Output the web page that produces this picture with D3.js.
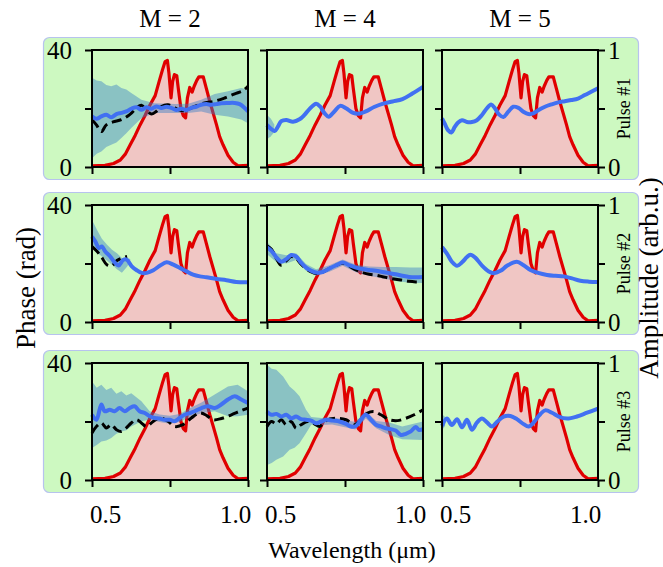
<!DOCTYPE html>
<html>
<head>
<meta charset="utf-8">
<script src="https://cdn.jsdelivr.net/npm/d3@7"></script>
<style>
  html, body { margin: 0; padding: 0; background: #fff; }
  svg { display: block; }
  svg text { font-family: "Liberation Serif", "DejaVu Serif", serif; }
</style>
</head>
<body>
<svg id="chart" width="663" height="567"></svg>
<script>
// column / row labels
const columns = ["M = 2", "M = 4", "M = 5"];
const pulses = ["Pulse #1", "Pulse #2", "Pulse #3"];
const xTicks = [0.45, 0.75, 1.05];
const xLabels = [0.5, 1.0];
const phaseTicks = [0, 20, 40];
const ampTicks = [0, 0.5, 1];

// measured spectrum (same in every panel) [wavelength um, amplitude]
const spectrum = [[0.45,0.01],[0.50,0.014],[0.533,0.03],[0.559,0.06],[0.578,0.11],[0.597,0.19],[0.616,0.27],
  [0.635,0.36],[0.654,0.44],[0.673,0.53],[0.693,0.61],[0.708,0.73],[0.721,0.83],[0.731,0.90],[0.740,0.91],
  [0.746,0.80],[0.754,0.59],[0.760,0.73],[0.767,0.79],[0.776,0.78],[0.782,0.67],[0.792,0.50],[0.801,0.44],
  [0.810,0.42],[0.817,0.59],[0.826,0.68],[0.835,0.64],[0.843,0.69],[0.853,0.74],[0.861,0.77],[0.878,0.77],
  [0.890,0.67],[0.903,0.56],[0.916,0.46],[0.929,0.36],[0.941,0.26],[0.954,0.19],[0.973,0.10],[0.993,0.04],
  [1.012,0.01],[1.05,0.014]];

// retrieved phase (blue) [wavelength, rad]
const blue11 = [[0.45,17.3],[0.467,16.5],[0.486,17.3],[0.505,17.9],[0.524,17.0],[0.544,18.1],[0.563,18.5],[0.582,19.0],
  [0.601,19.9],[0.621,20.4],[0.64,19.6],[0.659,20.4],[0.678,19.9],[0.697,20.7],[0.717,20.2],[0.736,20.6],[0.755,20.2],
  [0.774,19.5],[0.794,19.9],[0.813,19.5],[0.832,20.2],[0.851,20.6],[0.87,21.3],[0.89,21.5],[0.909,21.3],[0.928,21.5],
  [0.947,21.8],[0.973,21.9],[0.999,21.9],[1.018,21.5],[1.037,20.2],[1.05,19.0]];
const blue12 = [[0.45,14.4],[0.463,13.2],[0.479,12.3],[0.492,13.8],[0.505,15.7],[0.524,16.1],[0.55,15.5],[0.575,16.3],
  [0.594,17.8],[0.613,19.8],[0.639,21.6],[0.654,20.7],[0.671,18.4],[0.687,17.2],[0.709,19.0],[0.731,20.9],[0.754,20.1],
  [0.779,18.6],[0.805,18.2],[0.83,19.0],[0.862,20.5],[0.894,21.6],[0.933,22.4],[0.971,23.2],[1.009,25.1],[1.05,27.4]];
const blue13 = [[0.45,16.6],[0.46,14.9],[0.473,12.6],[0.486,11.8],[0.499,13.7],[0.512,15.2],[0.527,16.0],[0.546,15.4],
  [0.565,15.4],[0.584,16.0],[0.603,17.7],[0.622,20.0],[0.639,21.4],[0.654,20.0],[0.67,17.9],[0.686,17.1],[0.705,18.9],
  [0.724,20.6],[0.744,20.2],[0.763,18.9],[0.782,18.1],[0.801,18.3],[0.82,19.4],[0.846,20.6],[0.871,21.4],[0.897,22.1],
  [0.922,22.5],[0.948,22.9],[0.973,23.4],[0.999,24.6],[1.024,25.7],[1.05,26.9]];
const blue21 = [[0.45,29.2],[0.463,27.5],[0.476,25.3],[0.488,25.8],[0.501,24.1],[0.52,22.4],[0.539,20.2],[0.552,19.3],
  [0.571,21.3],[0.584,21.3],[0.603,19.0],[0.622,17.7],[0.641,16.8],[0.661,16.8],[0.686,17.7],[0.712,19.3],[0.737,20.4],
  [0.763,19.6],[0.788,18.5],[0.814,17.3],[0.839,16.2],[0.865,15.6],[0.89,15.3],[0.929,14.7],[0.967,14.3],[1.005,13.7],[1.05,13.6]];
const blue22 = [[0.45,25.5],[0.467,24.3],[0.486,22.1],[0.505,20.6],[0.524,21.5],[0.543,22.9],[0.562,22.4],[0.581,20.3],
  [0.6,18.6],[0.62,17.5],[0.639,16.9],[0.664,17.1],[0.69,18.3],[0.716,19.4],[0.741,20.3],[0.767,19.4],[0.792,18.6],
  [0.818,18.1],[0.843,17.8],[0.869,17.5],[0.894,17.1],[0.92,16.7],[0.945,16.3],[0.971,15.8],[0.996,15.4],[1.022,15.3],[1.05,15.4]];
const blue23 = [[0.45,25.6],[0.469,23.4],[0.488,20.6],[0.508,19.2],[0.527,20.4],[0.546,22.2],[0.559,23.0],[0.578,22.0],
  [0.604,19.3],[0.63,17.3],[0.649,16.7],[0.675,17.5],[0.70,19.2],[0.738,20.6],[0.764,19.4],[0.79,17.8],[0.82,16.8],
  [0.854,16.1],[0.886,15.8],[0.918,15.6],[0.95,14.9],[0.982,14.1],[1.015,13.8],[1.05,13.7]];
const blue31 = [[0.45,22.3],[0.467,20.6],[0.486,25.8],[0.499,23.5],[0.518,24.0],[0.537,23.5],[0.556,24.6],[0.576,23.5],
  [0.595,24.6],[0.614,25.2],[0.633,23.5],[0.653,22.9],[0.672,21.8],[0.691,21.2],[0.71,21.0],[0.729,20.6],[0.749,20.6],
  [0.768,20.1],[0.787,21.2],[0.806,22.3],[0.826,22.9],[0.845,23.5],[0.871,24.6],[0.896,25.2],[0.922,24.6],[0.947,25.8],
  [0.973,27.5],[0.999,28.6],[1.024,27.5],[1.05,26.3]];
const blue32 = [[0.45,23.4],[0.467,22.3],[0.486,22.6],[0.505,21.7],[0.524,22.3],[0.543,21.1],[0.562,21.7],[0.581,20.8],
  [0.6,20.6],[0.62,20.3],[0.639,19.4],[0.658,20.0],[0.677,20.6],[0.703,20.3],[0.728,20.0],[0.754,19.2],[0.773,18.3],
  [0.792,18.5],[0.811,20.6],[0.83,22.3],[0.85,20.6],[0.869,18.9],[0.888,18.3],[0.907,17.7],[0.926,17.4],[0.945,16.9],
  [0.965,15.4],[0.984,15.8],[1.003,16.6],[1.022,18.1],[1.035,17.1],[1.05,17.4]];
const blue33 = [[0.45,18.5],[0.469,21.0],[0.488,18.8],[0.508,20.8],[0.527,18.0],[0.546,20.6],[0.565,17.2],[0.585,19.7],
  [0.604,21.0],[0.623,19.7],[0.642,18.3],[0.662,19.9],[0.687,21.7],[0.713,21.9],[0.738,20.8],[0.764,19.1],[0.783,18.3],
  [0.803,19.7],[0.822,21.9],[0.847,23.8],[0.873,23.0],[0.899,21.7],[0.931,21.0],[0.969,21.7],[1.008,23.0],[1.05,24.4]];

// reference phase (black dashed)
const dash11 = [[0.45,16.2],[0.467,14.4],[0.486,12.1],[0.505,14.4],[0.531,15.4],[0.563,16.2],[0.595,17.9],[0.621,20.2],
  [0.64,21.1],[0.659,19.6],[0.678,18.1],[0.697,19.0],[0.717,20.7],[0.742,21.3],[0.768,20.2],[0.794,19.3],[0.819,19.7],
  [0.845,20.7],[0.883,21.9],[0.922,22.5],[0.96,23.6],[0.999,25.0],[1.031,26.1],[1.05,27.6]];
const dash21 = [[0.45,25.8],[0.469,24.2],[0.488,22.0],[0.507,19.6],[0.527,19.3],[0.546,21.0],[0.565,21.9],[0.585,22.4]];
const dash22 = [[0.45,26.1],[0.467,24.9],[0.486,21.7],[0.505,19.4],[0.524,20.9],[0.543,22.4],[0.562,21.7],[0.581,19.8],
  [0.6,18.3],[0.62,17.1],[0.639,16.6],[0.664,17.1],[0.69,18.3],[0.716,19.4],[0.741,20.1],[0.767,19.0],[0.792,17.8],
  [0.818,16.9],[0.843,16.3],[0.869,16.0],[0.894,15.5],[0.92,15.0],[0.945,14.6],[0.971,14.3],[0.996,13.9],[1.022,13.7],[1.05,13.7]];
const dash31 = [[0.45,16.1],[0.467,18.3],[0.486,19.5],[0.505,17.8],[0.524,18.9],[0.544,17.2],[0.563,16.6],[0.582,17.8],
  [0.601,19.5],[0.621,20.6],[0.64,19.5],[0.659,18.3],[0.685,20.0],[0.71,21.2],[0.742,20.1],[0.768,18.3],[0.8,18.9],
  [0.832,21.2],[0.864,22.9],[0.89,22.1],[0.915,20.6],[0.947,21.0],[0.986,22.3],[1.018,23.5],[1.05,24.6]];
const dash32 = [[0.45,18.3],[0.467,20.0],[0.486,19.2],[0.505,20.6],[0.524,18.9],[0.543,20.0],[0.562,17.7],[0.581,18.9],
  [0.607,20.0],[0.632,19.2],[0.652,18.3],[0.677,20.3],[0.716,21.1],[0.754,20.6],[0.786,18.9],[0.811,20.6],[0.837,22.9],
  [0.862,23.4],[0.888,22.3],[0.92,20.6],[0.952,20.3],[0.984,21.1],[1.016,22.3],[1.05,24.0]];

// uncertainty band [wavelength, low, high]
const band11 = [[0.45,3.0,30.5],[0.468,4.5,29.6],[0.486,5.3,29.3],[0.505,6.8,28.0],[0.524,7.6,27.6],[0.544,8.4,28.2],
  [0.563,9.9,27.0],[0.582,11.5,26.5],[0.601,13.3,25.3],[0.62,15.0,24.2],[0.64,16.7,23.0],[0.69,18.5,21.8],[0.77,18.5,21.5],
  [0.82,18.5,21.6],[0.87,19.0,23.0],[0.922,17.9,25.0],[0.973,17.3,25.9],[1.024,16.2,27.0],[1.05,15.0,26.5]];
const band12 = [[0.45,9.5,17.8],[0.465,10.5,16.5],[0.478,12.0,14.5]];
const band21 = [[0.45,25.8,34.9],[0.469,23.8,31.5],[0.488,22.4,28.5],[0.507,21.0,26.5],[0.527,19.6,24.7],[0.546,18.0,23.5],
  [0.565,16.8,21.9],[0.584,18.8,21.9],[0.597,20.5,21.5]];
const band22 = [[0.45,23.2,27.4],[0.486,20.5,23.5],[0.524,20.0,22.8],[0.562,21.2,23.5],[0.6,17.5,19.8],[0.639,15.8,18.0],
  [0.69,17.2,19.4],[0.741,19.2,21.4],[0.792,17.0,19.6],[0.843,15.8,19.0],[0.894,15.0,18.8],[0.945,14.0,18.8],[1.0,13.4,18.6],[1.05,13.3,18.6]];
const band31 = [[0.45,10.9,33.7],[0.468,12.0,31.5],[0.486,13.2,32.6],[0.505,13.5,30.8],[0.524,14.4,31.5],[0.544,15.8,29.5],
  [0.563,16.6,30.3],[0.582,17.0,28.9],[0.601,18.3,29.7],[0.64,20.1,26.9],[0.672,20.6,23.5],[0.71,19.8,22.4],[0.749,19.2,22.0],
  [0.787,19.8,22.6],[0.826,21.5,24.5],[0.871,22.8,26.5],[0.922,23.5,29.2],[0.973,21.8,32.0],[1.01,21.8,32.6],[1.05,22.3,30.3]];
const band32 = [[0.45,5.1,39.4],[0.468,5.8,38.0],[0.486,6.9,37.7],[0.512,8.0,35.4],[0.537,10.3,32.0],[0.556,11.0,30.5],
  [0.575,12.6,28.6],[0.6,16.0,24.0],[0.62,18.9,21.5],[0.66,18.8,21.2],[0.7,19.0,21.5],[0.75,18.0,20.5],[0.79,17.3,19.8],
  [0.83,21.0,23.5],[0.87,17.7,20.2],[0.92,15.4,19.7],[0.97,13.9,18.3],[1.05,13.7,20.0]];
const band33 = [[0.45,17.0,22.5],[0.462,18.5,21.5]];

const panels = [
  [{blue: blue11, dash: dash11, band: band11}, {blue: blue12, dash: [], band: band12}, {blue: blue13, dash: [], band: []}],
  [{blue: blue21, dash: dash21, band: band21}, {blue: blue22, dash: dash22, band: band22}, {blue: blue23, dash: [], band: []}],
  [{blue: blue31, dash: dash31, band: band31}, {blue: blue32, dash: dash32, band: band32}, {blue: blue33, dash: [], band: band33}]
];

const colX = [92, 267, 442];
const rowY = [50, 205, 363];
const pw = 156, ph = 117;

const svg = d3.select("#chart");

// green row boxes
rowY.forEach(y0 => {
  svg.append("rect")
    .attr("x", 43.5).attr("y", y0 - 12.5)
    .attr("width", 595).attr("height", ph + 25)
    .attr("rx", 6)
    .attr("fill", "#cdf9c1")
    .attr("stroke", "#b7c3ee").attr("stroke-width", 1.2);
});

panels.forEach((row, r) => {
  row.forEach((p, c) => {
    const x0 = colX[c], y0 = rowY[r];
    const x = d3.scaleLinear().domain([0.45, 1.05]).range([x0, x0 + pw]);
    const yP = d3.scaleLinear().domain([0, 40]).range([y0 + ph, y0]);
    const yA = d3.scaleLinear().domain([0, 1]).range([y0 + ph, y0]);
    const g = svg.append("g");

    g.append("path").datum(spectrum)
      .attr("fill", "#f0c6c4")
      .attr("d", d3.area().x(d => x(d[0])).y0(yA(0)).y1(d => yA(d[1])));
    g.append("path").datum(spectrum)
      .attr("fill", "none").attr("stroke", "#e00000").attr("stroke-width", 3.2)
      .attr("stroke-linejoin", "round")
      .attr("d", d3.line().x(d => x(d[0])).y(d => yA(d[1])));

    if (p.band.length) {
      g.append("path").datum(p.band)
        .attr("fill", "#3a7fc6").attr("fill-opacity", 0.45)
        .attr("d", d3.area().x(d => x(d[0])).y0(d => yP(d[1])).y1(d => yP(d[2])));
    }
    if (p.dash.length) {
      g.append("path").datum(p.dash)
        .attr("fill", "none").attr("stroke", "#000").attr("stroke-width", 3)
        .attr("stroke-dasharray", "10,5")
        .attr("d", d3.line().curve(d3.curveCatmullRom).x(d => x(d[0])).y(d => yP(d[1])));
    }
    g.append("path").datum(p.blue)
      .attr("fill", "none").attr("stroke", "#4170f2").attr("stroke-width", 4)
      .attr("stroke-linejoin", "round")
      .attr("d", d3.line().curve(d3.curveCatmullRom).x(d => x(d[0])).y(d => yP(d[1])));

    // frame
    g.append("rect")
      .attr("x", x0).attr("y", y0).attr("width", pw).attr("height", ph)
      .attr("fill", "none").attr("stroke", "#000").attr("stroke-width", 2);

    const left = g.append("g").attr("transform", `translate(${x0},0)`)
      .call(d3.axisLeft(yP).tickValues(phaseTicks).tickSize(7).tickPadding(13)
        .tickFormat(d => (c === 0 && d !== 20) ? d : ""));
    const bottom = g.append("g").attr("transform", `translate(0,${y0 + ph})`)
      .call(d3.axisBottom(x).tickValues(xTicks).tickSize(7).tickFormat(""));
    const axes = [left, bottom];
    if (c === 2) {
      axes.push(g.append("g").attr("transform", `translate(${x0 + pw},0)`)
        .call(d3.axisRight(yA).tickValues(ampTicks).tickSize(7).tickPadding(3)
          .tickFormat(d => d === 0.5 ? "" : d)));
      g.append("text")
        .attr("transform", `translate(630,${y0 + ph / 2}) rotate(-90)`)
        .attr("text-anchor", "middle")
        .attr("font-size", 18)
        .text(pulses[r]);
    }
    if (r === 2) {
      axes.push(g.append("g").attr("transform", `translate(0,${y0 + ph})`)
        .call(d3.axisBottom(x).tickValues(xLabels).tickSize(0).tickPadding(25)
          .tickFormat(d3.format(".1f"))));
    }
    axes.forEach(a => {
      a.attr("font-family", null);
      a.select(".domain").remove();
      a.selectAll("line").attr("stroke", "#000").attr("stroke-width", 2);
      a.selectAll("text").attr("font-size", 25).attr("fill", "#000");
    });
  });
});

// column titles
columns.forEach((t, i) => {
  svg.append("text")
    .attr("x", colX[i] + pw / 2).attr("y", 27)
    .attr("text-anchor", "middle")
    .attr("font-size", 25)
    .text(t);
});

svg.append("text")
  .attr("transform", "translate(35,288) rotate(-90)")
  .attr("text-anchor", "middle")
  .attr("font-size", 27)
  .text("Phase (rad)");

svg.append("text")
  .attr("transform", "translate(658,278) rotate(-90)")
  .attr("text-anchor", "middle")
  .attr("font-size", 27)
  .text("Amplitude (arb.u.)");

svg.append("text")
  .attr("x", 352).attr("y", 558)
  .attr("text-anchor", "middle")
  .attr("font-size", 24)
  .text("Wavelength (μm)");
</script>
</body>
</html>
